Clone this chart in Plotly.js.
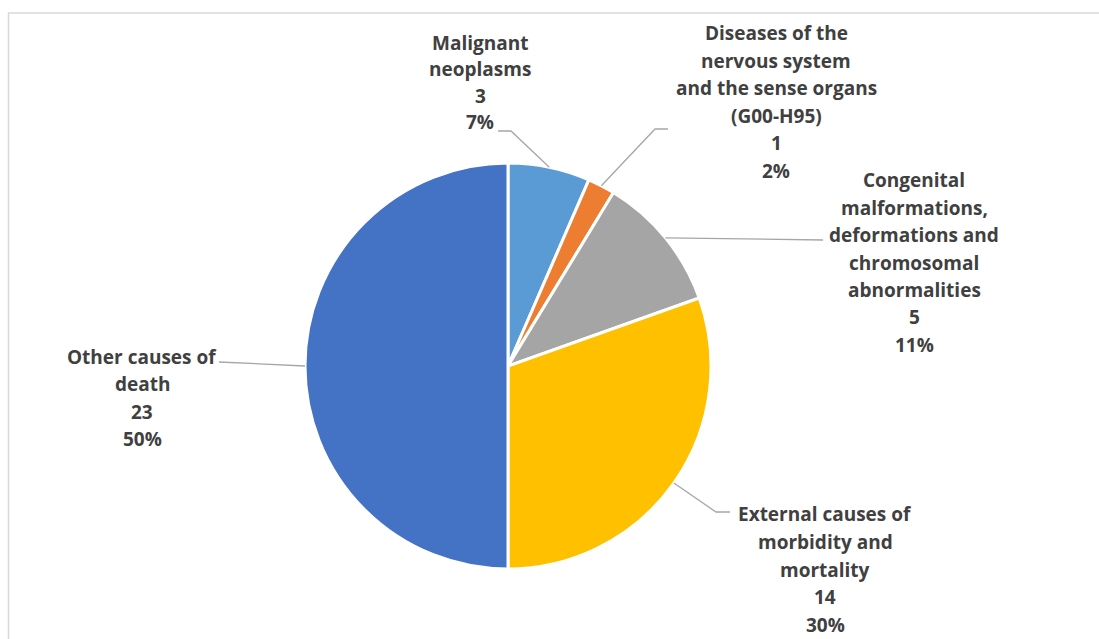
<!DOCTYPE html>
<html>
<head>
<meta charset="utf-8">
<script src="https://cdn.plot.ly/plotly-3.0.1.min.js"></script>
<style>
  html, body { margin: 0; padding: 0; background: #ffffff; }
  #chart { width: 1099px; height: 639px; }
  #chart text { font-variant-ligatures: none; }
</style>
</head>
<body>
<div id="chart"></div>
<script>
// Causes of death, number of cases
const causes = [
  "Malignant neoplasms",
  "Diseases of the nervous system and the sense organs (G00-H95)",
  "Congenital malformations, deformations and chromosomal abnormalities",
  "External causes of morbidity and mortality",
  "Other causes of death"
];
const deaths = [3, 1, 5, 14, 23];
const causeLines = [
  ["Malignant", "neoplasms"],
  ["Diseases of the", "nervous system", "and the sense organs", "(G00-H95)"],
  ["Congenital", "malformations,", "deformations and", "chromosomal", "abnormalities"],
  ["External causes of", "morbidity and", "mortality"],
  ["Other causes of", "death"]
];
const sliceColors = ["#5B9BD5", "#ED7D31", "#A5A5A5", "#FFC000", "#4472C4"];

const W = 1099, H = 639;
const px = x => x / W;
const py = y => 1 - y / H;

// pie placement in pixels
const pieLeft = 305, pieTop = 163, pieSize = 406;
const cx = pieLeft + pieSize / 2, cy = pieTop + pieSize / 2, R = pieSize / 2;

// label blocks: centre x, first line y, line gap
const labelPos = [
  { x: 480, y: 43, gap: 26.3 },
  { x: 776, y: 33, gap: 27.6 },
  { x: 914, y: 180, gap: 27.5 },
  { x: 825, y: 514, gap: 27.8 },
  { x: 142, y: 357, gap: 27.3 }
];
// leader line bend points (pixels), from the label towards the slice
const leaderBends = [
  [[498, 131], [511, 131]],
  [[668, 129], [655, 129]],
  [[823, 240]],
  [[730, 512], [716, 512]],
  [[219, 362]]
];

const total = deaths.reduce((a, b) => a + b, 0);

const annotations = [];
const shapes = [];
let cum = 0;
deaths.forEach((v, i) => {
  const mid = (cum + v / 2) / total * 2 * Math.PI;
  cum += v;
  const ex = cx + R * Math.sin(mid), ey = cy - R * Math.cos(mid);
  const lines = causeLines[i].concat([String(v), Math.round(v / total * 100) + "%"]);
  const p = labelPos[i];
  lines.forEach((t, k) => {
    annotations.push({
      xref: "paper", yref: "paper",
      x: px(p.x), y: py(p.y + k * p.gap),
      xanchor: "center", yanchor: "middle",
      text: t, showarrow: false,
      font: { family: "'Open Sans', 'Liberation Sans', sans-serif", size: 19, color: "#404040", weight: 700 }
    });
  });
  const pts = leaderBends[i].concat([[ex, ey]]);
  const path = pts.map((q, k) => (k ? "L" : "M") + px(q[0]) + "," + py(q[1])).join(" ");
  shapes.push({
    type: "path", xref: "paper", yref: "paper", path: path,
    line: { color: "#A6A6A6", width: 1.3 }
  });
});

// chart area frame
shapes.push({
  type: "rect", xref: "paper", yref: "paper",
  x0: px(8.5), x1: px(1110), y0: py(650), y1: py(13),
  line: { color: "#D9D9D9", width: 1.5 }, fillcolor: "rgba(0,0,0,0)"
});

const trace = {
  type: "pie",
  labels: causes,
  values: deaths,
  sort: false,
  direction: "clockwise",
  rotation: 0,
  textinfo: "none",
  hoverinfo: "label+value+percent",
  marker: { colors: sliceColors, line: { color: "#FFFFFF", width: 3 } },
  domain: { x: [px(pieLeft), px(pieLeft + pieSize)], y: [py(pieTop + pieSize), py(pieTop)] }
};

Plotly.newPlot("chart", [trace], {
  width: W, height: H,
  margin: { l: 0, r: 0, t: 0, b: 0 },
  paper_bgcolor: "#FFFFFF",
  showlegend: false,
  annotations: annotations,
  shapes: shapes
}, { displayModeBar: false, staticPlot: true });
</script>
</body>
</html>
